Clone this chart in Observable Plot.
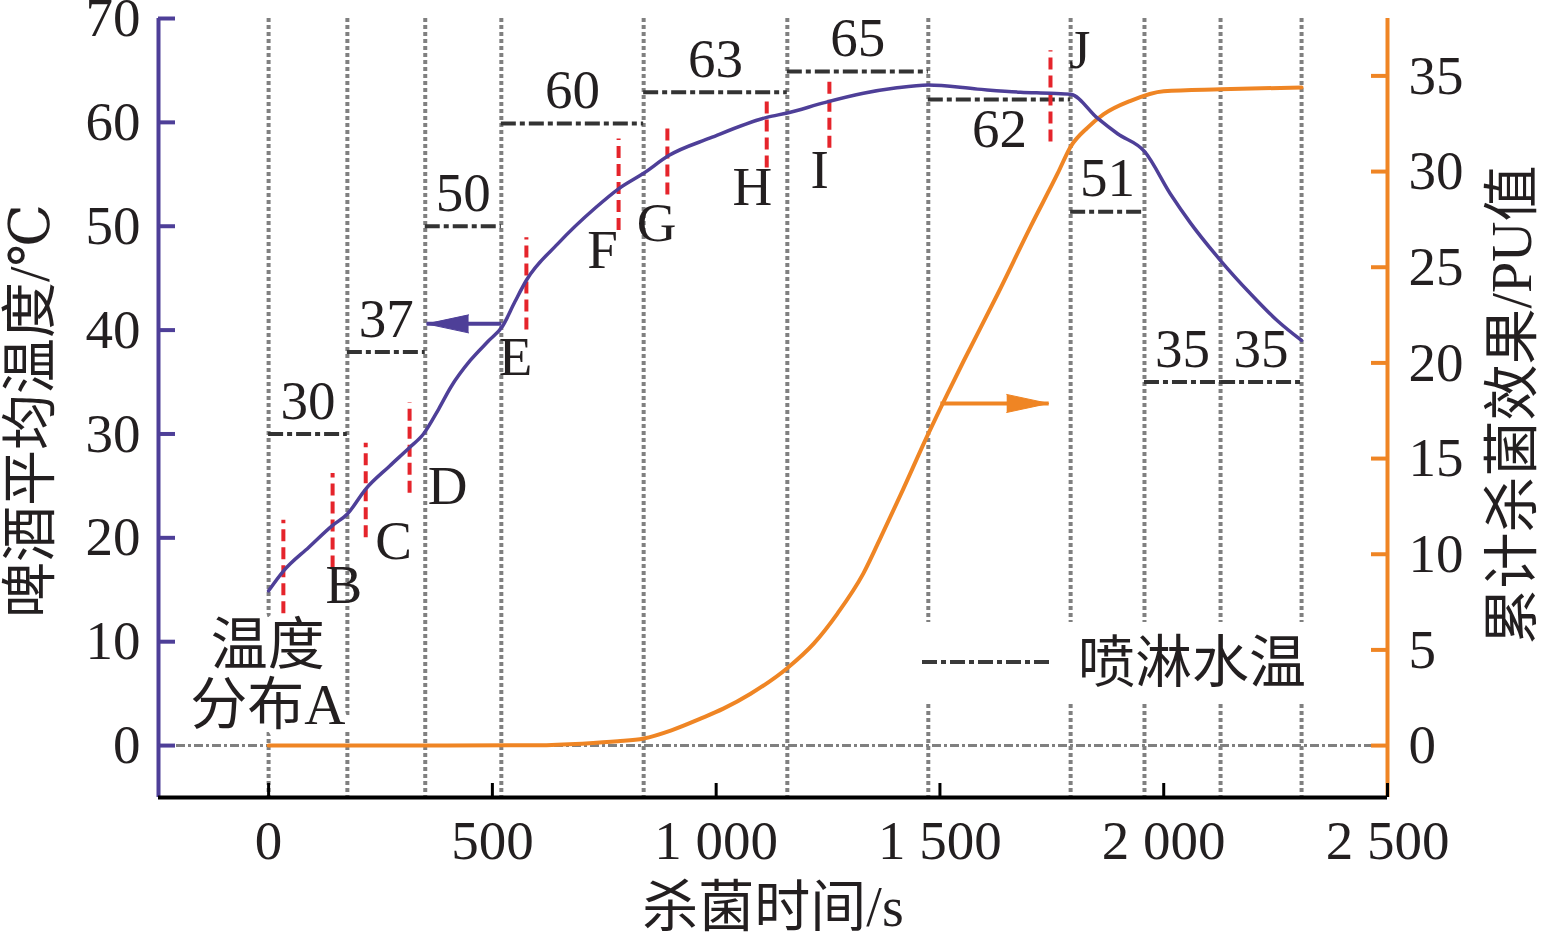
<!DOCTYPE html>
<html><head><meta charset="utf-8">
<script src="https://cdn.jsdelivr.net/npm/d3@7"></script>
<script src="https://cdn.jsdelivr.net/npm/@observablehq/plot@0.6"></script>
<style>
html,body{margin:0;padding:0;background:#fff;overflow:hidden}
#wrap{position:relative;width:1542px;height:942px}
#legend{position:absolute;left:915px;top:622px;width:395px;height:81px;background:#fff}
#legend span{position:absolute;left:163px;top:0;line-height:81px;font-size:57px;font-family:"Liberation Serif","DejaVu Serif","Noto Sans CJK SC",serif;color:#231f20;white-space:nowrap}
svg text{font-family:"Liberation Serif","DejaVu Serif","Noto Sans CJK SC",serif !important}
</style></head><body>
<div id="wrap"><div id="legend"><svg width="140" height="81" style="position:absolute;left:0;top:0"><line x1="7" x2="138" y1="40" y2="40" stroke="#3a3a3a" stroke-width="4" stroke-dasharray="15,4,5,4"/></svg><span>喷淋水温</span></div></div>
<script>
// ---- data ----
const segmentBounds = [0, 176, 350, 520, 838, 1159, 1474, 1792, 1957, 2127, 2308];
const sprayTemps = [30, 37.9, 50, 59.9, 62.9, 64.9, 62.2, 51.4, 35, 35];
const sprayLabels = ["30", "37", "50", "60", "63", "65", "62", "51", "35", "35"];
const sprayLabelBelow = [false, false, false, false, false, false, true, false, false, false];

const tempTime = [0, 33, 90, 143, 176, 217, 270, 315, 346, 380, 407, 451, 490, 523, 550, 576, 646, 731, 782, 838, 894, 987, 1115, 1159, 1242, 1329, 1400, 1474, 1584, 1680, 1747, 1792, 1852, 1897, 1957, 2015, 2060, 2127, 2194, 2254, 2308];
const tempValue = [14.9, 16.8, 19.1, 21.2, 22.3, 24.7, 26.9, 28.7, 30.0, 32.4, 34.5, 37.1, 38.9, 40.4, 42.7, 44.8, 48.3, 51.8, 53.6, 55.1, 56.8, 58.5, 60.5, 60.9, 61.9, 62.8, 63.3, 63.6, 63.2, 62.9, 62.8, 62.7, 60.4, 58.9, 57.2, 53.1, 50.3, 46.7, 43.5, 40.9, 39.0];

const puTime = [0, 400, 600, 700, 780, 838, 900, 965, 1016, 1077, 1160, 1218, 1271, 1329, 1374, 1412, 1472, 1517, 1553, 1629, 1702, 1763, 1792, 1830, 1866, 1926, 2000, 2127, 2308];
const puValue = [0, 0, 0.02, 0.1, 0.22, 0.37, 0.8, 1.41, 1.93, 2.71, 4.07, 5.33, 6.9, 9.0, 11.2, 13.1, 16.2, 18.4, 20.1, 23.6, 27.1, 29.9, 31.3, 32.3, 33.0, 33.7, 34.2, 34.3, 34.4];

const markerNames = ["A", "B", "C", "D", "E", "F", "G", "H", "I", "J"];
const markerTime = [33, 143, 217, 315, 576, 782, 891, 1113, 1253, 1747];
const markerLow = [12.7, 17.1, 20.0, 24.3, 40.0, 49.6, 53.0, 55.6, 57.5, 58.1];
const markerHigh = [21.7, 26.2, 29.1, 33.0, 48.9, 58.4, 59.9, 62.3, 64.3, 66.9];

const letterText = ["B", "C", "D", "E", "F", "G", "H", "I", "J"];
const letterTime = [168, 279, 400, 552, 746, 867, 1081, 1231, 1812];
const letterValue = [15.4, 19.7, 25.0, 37.4, 47.7, 50.3, 53.7, 55.4, 66.9];

const startLabel = "温度\n分布A";
const startLabelTime = -2;
const startLabelValue = 6.8;

const xTicks = [0, 500, 1000, 1500, 2000, 2500];
const tempTicks = [0, 10, 20, 30, 40, 50, 60, 70];
const puTicks = [0, 5, 10, 15, 20, 25, 30, 35];

const X_DOMAIN = [-246, 2500];
const T_DOMAIN = [-5, 70];
const PU_DOMAIN = [-2.714, 38];

// arrows: from time, to time, value, series
const arrowFrom = [520, 1501];
const arrowTo = [353, 1743];
const arrowValue = [40.6, 17.88];  // first in °C, second in PU
const arrowSeries = ["temp", "pu"];

// ---- derived ----
const k = (T_DOMAIN[1] - T_DOMAIN[0]) / (PU_DOMAIN[1] - PU_DOMAIN[0]);
const puToT = v => T_DOMAIN[0] + (v - PU_DOMAIN[0]) * k;
const tToPu = v => (v - T_DOMAIN[0]) / k + PU_DOMAIN[0];

const PURPLE = "#4e3f98", ORANGE = "#ef8524", RED = "#e5242b", GREY = "#808080", DARK = "#333333", INK = "#231f20";
const FONT = "Liberation Serif, DejaVu Serif, Noto Sans CJK SC, serif";

const segments = sprayTemps.map((v, i) => ({t1: segmentBounds[i], t2: segmentBounds[i + 1], v, label: sprayLabels[i], below: sprayLabelBelow[i]}));
const temp = tempTime.map((t, i) => ({t, v: tempValue[i]}));
const pu = puTime.map((t, i) => ({t, v: puToT(puValue[i])}));
const markers = markerNames.map((n, i) => ({t: markerTime[i], lo: markerLow[i], hi: markerHigh[i]}));
const letters = letterText.map((s, i) => ({s, t: letterTime[i], v: letterValue[i]}));
const arrows = arrowSeries.map((s, i) => ({
  x1: arrowFrom[i], x2: arrowTo[i],
  y: s === "pu" ? puToT(arrowValue[i]) : arrowValue[i],
  color: s === "pu" ? ORANGE : PURPLE,
  dir: arrowTo[i] < arrowFrom[i] ? -90 : 90
}));

const fmtX = d => d >= 1000 ? `${Math.floor(d / 1000)} ${String(d % 1000).padStart(3, "0")}` : `${d}`;
const T = {fontFamily: FONT, fill: INK};

const chart = Plot.plot({
  width: 1542, height: 942,
  marginLeft: 158, marginRight: 155, marginTop: 18, marginBottom: 145,
  x: {domain: X_DOMAIN, label: null},
  y: {domain: T_DOMAIN, label: null},
  style: {fontFamily: FONT, fontSize: "55px", background: "white", color: INK, overflow: "visible"},
  marks: [
    Plot.ruleX(segmentBounds, {stroke: GREY, strokeWidth: 4, strokeDasharray: "4,3"}),
    Plot.ruleY([0], {stroke: GREY, strokeWidth: 3, strokeDasharray: "9,3,3,3"}),
    Plot.ruleY(segments, {y: "v", x1: "t1", x2: "t2", stroke: DARK, strokeWidth: 4, strokeDasharray: "15,4,5,4"}),
    Plot.text(segments.filter(d => !d.below), {...T, x: d => (d.t1 + d.t2) / 2, y: "v", text: "label", dy: -33, fontSize: 55}),
    Plot.text(segments.filter(d => d.below), {...T, x: d => (d.t1 + d.t2) / 2, y: "v", text: "label", dy: 30, fontSize: 55}),
    Plot.ruleX(markers, {x: "t", y1: "lo", y2: "hi", stroke: RED, strokeWidth: 4, strokeDasharray: "12,6"}),
    Plot.line(pu, {x: "t", y: "v", stroke: ORANGE, strokeWidth: 4, curve: "monotone-x"}),
    Plot.line(temp, {x: "t", y: "v", stroke: PURPLE, strokeWidth: 3.5, curve: "monotone-x"}),
    Plot.link(arrows, {x1: "x1", x2: "x2", y1: "y", y2: "y", stroke: "color", strokeWidth: 4}),
    Plot.vector(arrows, {x: "x2", y: "y", rotate: "dir", length: 42, r: 9, shape: "spike", anchor: "end", fill: "color", stroke: "color", strokeWidth: 1, fillOpacity: 1}),
    Plot.text(letters, {...T, x: "t", y: "v", text: "s", fontSize: 55}),
    Plot.text([startLabel], {...T, x: () => startLabelTime, y: () => startLabelValue, text: d => d, fontSize: 57, lineHeight: 1.06, stroke: "white", strokeWidth: 16}),
    // axis lines
    Plot.ruleX([X_DOMAIN[0]], {stroke: PURPLE, strokeWidth: 4}),
    Plot.ruleX([X_DOMAIN[1]], {stroke: ORANGE, strokeWidth: 4}),
    Plot.ruleY([T_DOMAIN[0]], {stroke: "black", strokeWidth: 4}),
    // axes
    Plot.axisY({anchor: "left", ticks: tempTicks, tickSize: -17, tickPadding: 35, stroke: PURPLE, fill: INK, fontFamily: FONT, strokeWidth: 4, fontSize: 55, label: null}),
    Plot.axisY({anchor: "right", ticks: puTicks.map(puToT), tickFormat: d => `${Math.round(tToPu(d))}`, tickSize: -17, tickPadding: 38, stroke: ORANGE, fill: INK, fontFamily: FONT, strokeWidth: 4, fontSize: 55, label: null}),
    Plot.axisX({anchor: "bottom", ticks: xTicks, tickFormat: fmtX, tickSize: -14, tickPadding: 36, stroke: "black", fill: INK, fontFamily: FONT, strokeWidth: 3, fontSize: 55, label: null}),
    // axis titles
    Plot.text(["杀菌时间/s"], {...T, frameAnchor: "bottom", text: d => d, textAnchor: "middle", lineAnchor: "middle", dy: 111, fontSize: 56}),
    Plot.text(["啤酒平均温度/℃"], {...T, frameAnchor: "left", text: d => d, rotate: -90, textAnchor: "middle", lineAnchor: "middle", dx: -127, dy: 3, fontSize: 56}),
    Plot.text(["累计杀菌效果/PU值"], {...T, frameAnchor: "right", text: d => d, rotate: -90, textAnchor: "middle", lineAnchor: "middle", dx: 126, dy: -3, fontSize: 56})
  ]
});
document.getElementById("wrap").prepend(chart);
</script></body></html>
